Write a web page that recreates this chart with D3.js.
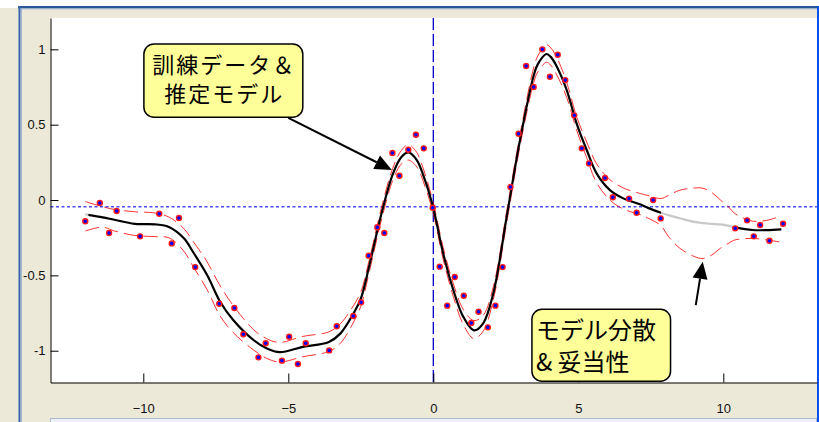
<!DOCTYPE html>
<html>
<head>
<meta charset="utf-8">
<script src="https://cdn.jsdelivr.net/npm/d3@7/dist/d3.min.js"></script>
<style>
  body { margin: 0; background: #fff; }
  svg { display: block; }
</style>
</head>
<body>
<div id="chart"></div>
<script>
// observed training data
var obsX = [-12.0, -11.5, -11.18, -10.92, -10.11, -9.45, -9.02, -8.77, -8.21, -7.38,
    -6.86, -6.55, -6.03, -5.78, -5.22, -4.97, -4.67, -4.40, -3.59, -3.33,
    -2.76, -2.49, -2.23, -1.93, -1.69, -1.41, -1.17, -0.86, -0.60, -0.33,
    -0.02, 0.22, 0.48, 0.74, 1.05, 1.31, 1.56, 1.88, 2.14, 2.39,
    2.66, 2.94, 3.20, 3.46, 3.76, 4.02, 4.29, 4.55, 4.86, 5.12,
    5.37, 5.92, 6.19, 6.75, 7.01, 7.58, 7.84, 10.41, 10.82, 11.05,
    11.27, 11.59, 12.06];
var obsY = [-0.141, -0.020, -0.219, -0.073, -0.241, -0.091, -0.288, -0.119, -0.445, -0.688,
    -0.717, -0.891, -1.044, -0.951, -1.066, -0.907, -1.088, -0.951, -0.998, -0.838,
    -0.770, -0.679, -0.369, -0.181, -0.219, 0.312, 0.161, 0.334, 0.433, 0.343,
    -0.051, -0.442, -0.701, -0.511, -0.635, -0.816, -0.741, -0.845, -0.701, -0.445,
    0.086, 0.440, 0.889, 0.750, 1.000, 0.818, 0.964, 0.796, 0.562, 0.343,
    0.243, 0.146, 0.018, 0.009, -0.084, 0.000, -0.122, -0.188, -0.135, -0.241,
    -0.166, -0.270, -0.157];

// estimated model: mean and band
var fitX = [-12.0, -11.4, -11.0, -10.3, -9.6, -9.1, -8.6, -8.3, -7.8, -7.35,
    -6.9, -6.2, -5.75, -5.3, -4.5, -3.6, -3.2, -2.75, -2.5, -2.2,
    -1.8, -1.4, -1.1, -0.86, -0.57, -0.29, 0, 0.34, 0.69, 1.03,
    1.4, 1.72, 2.07, 2.53, 2.99, 3.45, 3.6, 3.9, 4.05, 4.26,
    4.6, 4.94, 5.29, 5.63, 6.09, 6.55, 7.1, 7.4, 7.85, 8.1,
    8.5, 9.0, 9.3, 9.6, 9.9, 10.2, 10.4, 11.0, 11.5, 12.0];
var fitMean = [-0.095, -0.115, -0.131, -0.158, -0.161, -0.180, -0.254, -0.340, -0.498, -0.675,
    -0.796, -0.929, -0.984, -1.010, -0.975, -0.942, -0.885, -0.752, -0.655, -0.430,
    -0.100, 0.170, 0.285, 0.316, 0.265, 0.133, -0.055, -0.354, -0.597, -0.774,
    -0.865, -0.818, -0.619, -0.111, 0.398, 0.818, 0.900, 0.969, 0.950, 0.885,
    0.730, 0.509, 0.332, 0.177, 0.066, 0.011, -0.027, -0.052, -0.084, -0.100,
    -0.121, -0.145, -0.153, -0.158, -0.162, -0.172, -0.181, -0.199, -0.200, -0.195];
var fitHi = [-0.010, -0.045, -0.062, -0.078, -0.086, -0.115, -0.190, -0.270, -0.410, -0.570,
    -0.700, -0.860, -0.920, -0.945, -0.905, -0.875, -0.820, -0.700, -0.610, -0.390,
    -0.060, 0.210, 0.330, 0.368, 0.315, 0.175, -0.020, -0.315, -0.555, -0.725,
    -0.800, -0.765, -0.575, -0.075, 0.435, 0.870, 0.955, 1.030, 1.010, 0.945,
    0.780, 0.555, 0.385, 0.240, 0.135, 0.080, 0.045, 0.030, 0.010, 0.030,
    0.065, 0.080, 0.078, 0.050, 0.000, -0.050, -0.090, -0.140, -0.135, -0.105];
var fitLo = [-0.205, -0.180, -0.205, -0.235, -0.243, -0.252, -0.340, -0.435, -0.595, -0.770,
    -0.880, -0.995, -1.050, -1.075, -1.040, -1.005, -0.950, -0.810, -0.705, -0.470,
    -0.140, 0.130, 0.240, 0.265, 0.220, 0.093, -0.090, -0.393, -0.640, -0.825,
    -0.920, -0.870, -0.660, -0.150, 0.360, 0.770, 0.850, 0.914, 0.895, 0.830,
    0.680, 0.465, 0.280, 0.115, 0.000, -0.060, -0.095, -0.120, -0.170, -0.240,
    -0.320, -0.375, -0.388, -0.365, -0.320, -0.285, -0.265, -0.255, -0.265, -0.280];
// parts of the mean drawn grey (no data nearby)
var greyRanges = [[-12.1, -11.9], [7.85, 10.4]];
var blackRanges = [[-11.9, 7.85], [10.4, 12.1]];

var refLevel = -0.045;
var xTicks = [-10, -5, 0, 5, 10];
var yTicks = [-1, -0.5, 0, 0.5, 1];

// annotations (data coords)
var notes = [
    { x0: -9.98, x1: -4.5, y0: 1.035, y1: 0.55, lines: ['訓練データ＆', '推定モデル'], align: 'middle',
      size: 22, spacing: 2, first: 29, step: 29, from: [-5.0, 0.545], to: [-1.43, 0.2] },
    { x0: 3.4, x1: 8.18, y0: -0.725, y1: -1.202, lines: ['モデル分散', '& 妥当性'], align: 'start',
      size: 24, spacing: 0, first: 30, step: 32, from: [9.05, -0.697], to: [9.29, -0.41] }
];

var width = 819, height = 422;
var svg = d3.select('#chart').append('svg')
    .attr('width', width)
    .attr('height', height);

// window frame
svg.append('rect').attr('x', 0).attr('y', 0).attr('width', width).attr('height', height).attr('fill', '#fff');
svg.append('rect').attr('x', 0).attr('y', 8).attr('width', width).attr('height', height - 8).attr('fill', '#ece9d8');
svg.append('rect').attr('x', 18).attr('y', 6).attr('width', 801).attr('height', 2.5).attr('fill', '#2c5797');
svg.append('rect').attr('x', 18).attr('y', 8.5).attr('width', 801).attr('height', 1).attr('fill', '#b9c6da');
svg.append('rect').attr('x', 18.5).attr('y', 6).attr('width', 2).attr('height', height).attr('fill', '#3565a8');
svg.append('rect').attr('x', 20.5).attr('y', 8).attr('width', 1.2).attr('height', height).attr('fill', '#8aa6d2');
svg.append('rect').attr('x', 817).attr('y', 6).attr('width', 2).attr('height', height).attr('fill', '#0a4ff0');
svg.append('rect').attr('x', 50.5).attr('y', 418.5).attr('width', 766).attr('height', 8)
    .attr('fill', '#eef1f5').attr('stroke', '#a9b8cf');

var x = d3.scaleLinear().domain([-13.2, 13.23]).range([50.5, 817]);
var y = d3.scaleLinear().domain([-1.211, 1.208]).range([382.5, 18]);

svg.append('rect')
    .attr('x', x.range()[0]).attr('y', y.range()[1])
    .attr('width', x.range()[1] - x.range()[0])
    .attr('height', y.range()[0] - y.range()[1])
    .attr('fill', '#fff');

var defs = svg.append('defs');
function rangeClip(id, ranges) {
    var cp = defs.append('clipPath').attr('id', id);
    ranges.forEach(function (r) {
        cp.append('rect')
            .attr('x', x(r[0])).attr('y', 0)
            .attr('width', x(r[1]) - x(r[0])).attr('height', height);
    });
}
rangeClip('clipBlack', blackRanges);
rangeClip('clipGrey', greyRanges);

// reference lines
svg.append('line')
    .attr('x1', x.range()[0]).attr('x2', x.range()[1])
    .attr('y1', y(refLevel)).attr('y2', y(refLevel))
    .attr('stroke', '#4d4dff').attr('stroke-width', 1.5)
    .attr('stroke-dasharray', '3,2.5');
svg.append('line')
    .attr('x1', x(0)).attr('x2', x(0))
    .attr('y1', y.range()[1]).attr('y2', y.range()[0])
    .attr('stroke', '#0000c8').attr('stroke-width', 1.3)
    .attr('stroke-dasharray', '12,4');

var lineOf = function (ys) {
    return d3.line()
        .curve(d3.curveCatmullRom.alpha(0.5))
        .x(function (d, i) { return x(fitX[i]); })
        .y(function (d) { return y(d); })(ys);
};

// band (red dashed)
[fitHi, fitLo].forEach(function (b) {
    svg.append('path')
        .attr('d', lineOf(b))
        .attr('fill', 'none')
        .attr('stroke', '#ff0000')
        .attr('stroke-opacity', 0.9)
        .attr('stroke-width', 0.9)
        .attr('stroke-dasharray', '14,6');
});

// mean
svg.append('path')
    .attr('d', lineOf(fitMean))
    .attr('fill', 'none')
    .attr('stroke', '#000')
    .attr('stroke-width', 2.2)
    .attr('clip-path', 'url(#clipBlack)');
svg.append('path')
    .attr('d', lineOf(fitMean))
    .attr('fill', 'none')
    .attr('stroke', '#c8c8c8')
    .attr('stroke-width', 2.2)
    .attr('clip-path', 'url(#clipGrey)');

// points
svg.append('g').selectAll('circle')
    .data(obsX)
    .enter().append('circle')
    .attr('cx', function (d) { return x(d); })
    .attr('cy', function (d, i) { return y(obsY[i]); })
    .attr('r', 2.5)
    .attr('fill', '#0000ff')
    .attr('stroke', '#ff1a1a')
    .attr('stroke-width', 1.4);

// axes
var gx = svg.append('g')
    .attr('transform', 'translate(0,' + y.range()[0] + ')')
    .call(d3.axisBottom(x).tickValues(xTicks).tickSizeInner(-9).tickSizeOuter(0).tickPadding(21)
        .tickFormat(d3.format('d')));
var gy = svg.append('g')
    .attr('transform', 'translate(' + x.range()[0] + ',0)')
    .call(d3.axisLeft(y).tickValues(yTicks).tickSizeInner(-8).tickSizeOuter(0).tickPadding(5)
        .tickFormat(function (d) { return String(d); }));
[gx, gy].forEach(function (g) {
    g.select('.domain').attr('stroke', '#000');
    g.selectAll('line').attr('stroke', '#000');
    g.selectAll('text')
        .attr('fill', '#111')
        .style('font-family', '"Liberation Sans", Arial, sans-serif')
        .style('font-size', '13px');
});

// annotations
notes.forEach(function (n) {
    var bx = x(n.x0), by = y(n.y0), bw = x(n.x1) - x(n.x0), bh = y(n.y1) - y(n.y0);
    var fx = x(n.from[0]), fy = y(n.from[1]), tx = x(n.to[0]), ty = y(n.to[1]);
    var ang = Math.atan2(ty - fy, tx - fx);
    var hl = 17, hw = 7.5;
    var bxh = tx - hl * Math.cos(ang), byh = ty - hl * Math.sin(ang);
    svg.append('line')
        .attr('x1', fx).attr('y1', fy).attr('x2', bxh).attr('y2', byh)
        .attr('stroke', '#000').attr('stroke-width', 2);
    svg.append('path')
        .attr('d', 'M' + tx + ',' + ty +
            'L' + (bxh + hw * Math.sin(ang)) + ',' + (byh - hw * Math.cos(ang)) +
            'L' + (bxh - hw * Math.sin(ang)) + ',' + (byh + hw * Math.cos(ang)) + 'Z')
        .attr('fill', '#000');

    svg.append('rect')
        .attr('x', bx).attr('y', by).attr('width', bw).attr('height', bh)
        .attr('rx', 10).attr('ry', 10)
        .attr('fill', '#ffff99')
        .attr('stroke', '#000').attr('stroke-width', 1.5);
    n.lines.forEach(function (s, i) {
        svg.append('text')
            .style('font-family', '"Noto Sans CJK JP", sans-serif')
            .style('font-size', n.size + 'px')
            .style('letter-spacing', n.spacing + 'px')
            .attr('fill', '#000')
            .attr('text-anchor', n.align)
            .attr('x', n.align == 'middle' ? bx + bw / 2 + n.spacing / 2 : bx + 4)
            .attr('y', by + n.first + i * n.step)
            .text(s);
    });
});
</script>
</body>
</html>
